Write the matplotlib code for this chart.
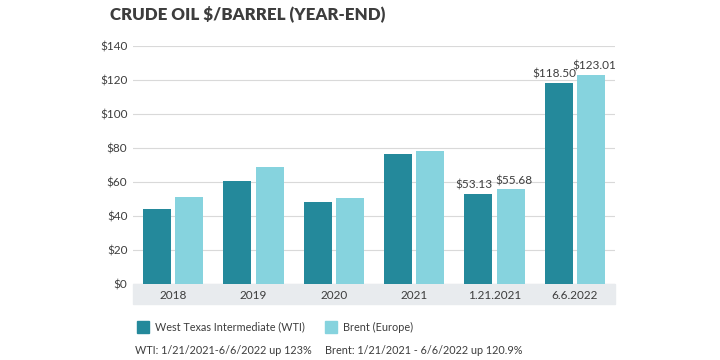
import matplotlib.pyplot as plt
import numpy as np
from matplotlib.patches import Rectangle

plt.rcParams['font.family'] = ['Lato', 'DejaVu Sans']

categories = ["2018", "2019", "2020", "2021", "1.21.2021", "6.6.2022"]
wti = [44.2, 60.8, 48.2, 76.6, 53.13, 118.50]
brent = [50.9, 68.6, 50.6, 78.2, 55.68, 123.01]
labeled = [4, 5]  # groups with value labels

WTI_COLOR = "#24899b"
BRENT_COLOR = "#86d3de"
TEXT = "#3d3d3d"

fig = plt.figure(figsize=(7.2, 3.6), dpi=100)
ax = fig.add_axes([133 / 720, 1 - 284 / 360, 482 / 720, 238 / 360])

x = np.arange(len(categories))
w = 0.35
off = w / 2 + 0.025
ax.bar(x - off, wti, w, color=WTI_COLOR, zorder=3)
ax.bar(x + off, brent, w, color=BRENT_COLOR, zorder=3)

for i in labeled:
    ax.text(x[i] - off - 0.06, wti[i] + 1.8, f"${wti[i]:.2f}", ha="center", va="bottom",
            fontsize=8.5, color=TEXT)
    ax.text(x[i] + off + 0.04, brent[i] + 1.8, f"${brent[i]:.2f}", ha="center", va="bottom",
            fontsize=8.5, color=TEXT)

ax.set_xlim(-0.5, len(categories) - 0.5)
ax.set_ylim(0, 140)
ax.set_yticks(range(0, 141, 20))
ax.set_yticklabels([f"${v}" for v in range(0, 141, 20)], fontsize=8.5, color=TEXT)
ax.yaxis.grid(True, color="#d9d9d9", linewidth=0.8, zorder=0)
ax.set_axisbelow(True)
ax.tick_params(axis="y", length=0, pad=4)
ax.tick_params(axis="x", length=0)
for s in ax.spines.values():
    s.set_visible(False)
ax.set_xticks([])

# gray band holding category labels
band_h = 20 / 238
ax.add_patch(Rectangle((0, -band_h), 1, band_h, transform=ax.transAxes,
                       color="#e8ebee", clip_on=False, zorder=1))
for i, c in enumerate(categories):
    ax.text(x[i], -band_h / 2 - 0.005, c, transform=ax.get_xaxis_transform(), ha="center",
            va="center", fontsize=8.5, color=TEXT)

fig.text(110 / 720, 1 - 14 / 360, "CRUDE OIL $/BARREL (YEAR-END)", fontsize=12.2,
         fontweight="heavy", color=TEXT, va="center", ha="left")

# legend
fig.patches.append(Rectangle((137 / 720, 1 - 333 / 360), 12 / 720, 12 / 360,
                             transform=fig.transFigure, color=WTI_COLOR))
fig.text(155 / 720, 1 - 327 / 360, "West Texas Intermediate (WTI)", fontsize=7.8,
         color=TEXT, va="center")
fig.patches.append(Rectangle((325 / 720, 1 - 333 / 360), 12 / 720, 12 / 360,
                             transform=fig.transFigure, color=BRENT_COLOR))
fig.text(343 / 720, 1 - 327 / 360, "Brent (Europe)", fontsize=7.8, color=TEXT, va="center")

fig.text(135 / 720, 1 - 351 / 360, "WTI: 1/21/2021-6/6/2022 up 123%", fontsize=7.8,
         color=TEXT, va="center")
fig.text(325 / 720, 1 - 351 / 360, "Brent: 1/21/2021 - 6/6/2022 up 120.9%", fontsize=7.8,
         color=TEXT, va="center")

fig.savefig("out.png", dpi=100)
